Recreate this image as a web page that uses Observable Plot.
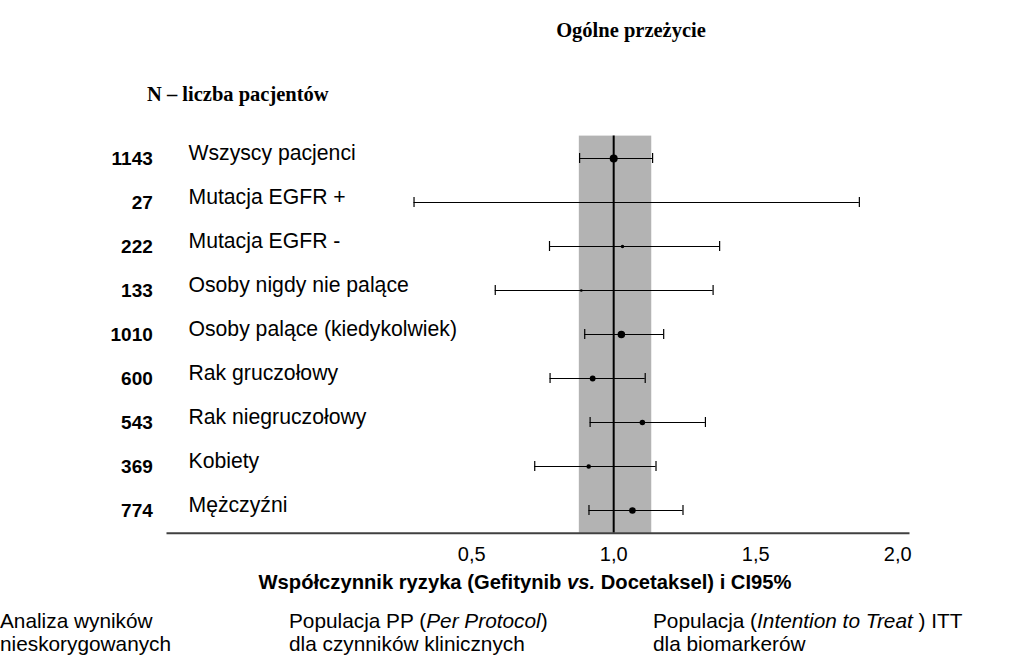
<!DOCTYPE html>
<html><head><meta charset="utf-8">
<script src="https://cdn.jsdelivr.net/npm/d3@7"></script>
<script src="https://cdn.jsdelivr.net/npm/@observablehq/plot@0.6"></script>
<style>
body{margin:0;background:#fff;}
#wrap{position:relative;width:1016px;height:664px;overflow:hidden;background:#fff;}
#chart,#notes{position:absolute;left:0;top:0;}
#notes{pointer-events:none;}
#notes text{fill:#000;}
.serif{font-family:"Liberation Serif","Times New Roman",serif;font-weight:bold;}
.sans{font-family:"Liberation Sans",Arial,sans-serif;}
</style></head><body>
<div id="wrap"><div id="chart"></div>
<svg id="notes" width="1016" height="664">
  <text class="serif" x="631" y="37" text-anchor="middle" font-size="20.5">Ogólne przeżycie</text>
  <text class="serif" x="147" y="101" font-size="20.5">N – liczba pacjentów</text>
  <text class="sans" x="525" y="589" text-anchor="middle" font-size="20.2" font-weight="bold">Współczynnik ryzyka (Gefitynib <tspan font-style="italic">vs.</tspan> Docetaksel) i CI95%</text>
  <text class="sans" x="0" y="627.5" font-size="20.8">Analiza wyników</text>
  <text class="sans" x="0" y="650.5" font-size="20.8">nieskorygowanych</text>
  <text class="sans" x="289" y="627.5" font-size="20.8">Populacja PP (<tspan font-style="italic">Per Protocol</tspan>)</text>
  <text class="sans" x="289" y="650.5" font-size="20.8">dla czynników klinicznych</text>
  <text class="sans" x="653" y="627.5" font-size="20.8">Populacja (<tspan font-style="italic">Intention to Treat </tspan>) ITT</text>
  <text class="sans" x="653" y="650.5" font-size="20.8">dla biomarkerów</text>
</svg></div>
<script>
const categories = ["Wszyscy pacjenci", "Mutacja EGFR +", "Mutacja EGFR -", "Osoby nigdy nie palące",
  "Osoby palące (kiedykolwiek)", "Rak gruczołowy", "Rak niegruczołowy", "Kobiety", "Mężczyźni"];
const patients = [1143, 27, 222, 133, 1010, 600, 543, 369, 774];
const hazardRatio = [1.000, 0.745, 1.031, 0.886, 1.027, 0.926, 1.101, 0.912, 1.066];
const ciLow = [0.880, 0.297, 0.774, 0.583, 0.898, 0.776, 0.917, 0.722, 0.913];
const ciHigh = [1.137, 1.865, 1.373, 1.350, 1.176, 1.111, 1.323, 1.149, 1.244];
const bandRange = [0.879, 1.134];
const tickValues = [0.5, 1, 1.5, 2];
const tickLabels = ["0,5", "1,0", "1,5", "2,0"];

const rows = categories.map((c, i) => ({category: c, n: patients[i], hr: hazardRatio[i], lo: ciLow[i], hi: ciHigh[i]}));

const chart = Plot.plot({
  width: 1016, height: 664,
  marginLeft: 167, marginRight: 108, marginTop: 135.6, marginBottom: 131.2,
  style: {fontFamily: "'Liberation Sans', Arial, sans-serif", color: "#000", background: "#fff"},
  x: {domain: [-0.571, 2.038], label: null},
  y: {domain: categories, padding: 0, axis: null},
  r: {type: "sqrt", domain: [0, 1143], range: [0, 4]},
  marks: [
    Plot.rect([bandRange], {x1: d => d[0], x2: d => d[1], fill: "#b3b3b3"}),
    Plot.ruleX([1], {stroke: "#000", strokeWidth: 2}),
    Plot.ruleY(rows, {y: "category", x1: "lo", x2: "hi", stroke: "#000", strokeWidth: 1.2}),
    Plot.tickX(rows, {x: "lo", y: "category", insetTop: 17, insetBottom: 17, stroke: "#000", strokeWidth: 1.2}),
    Plot.tickX(rows, {x: "hi", y: "category", insetTop: 17, insetBottom: 17, stroke: "#000", strokeWidth: 1.2}),
    Plot.dot(rows, {x: "hr", y: "category", r: "n", fill: "#000", stroke: null}),
    Plot.text(rows, {y: "category", text: d => String(d.n), frameAnchor: "left", dx: -14.7, dy: 0.3,
      textAnchor: "end", fontWeight: "bold", fontSize: 19, fill: "#000"}),
    Plot.text(rows, {y: "category", text: "category", frameAnchor: "left", dx: 21, dy: -4.8,
      textAnchor: "start", fontSize: 21.2, fill: "#000"}),
    Plot.frame({anchor: "bottom", stroke: "#404040", strokeWidth: 2}),
    Plot.axisX(tickValues, {anchor: "bottom", tickSize: 0, tickPadding: 13.5, fontSize: 20,
      tickFormat: d => tickLabels[tickValues.indexOf(d)], label: null})
  ]
});
document.getElementById("chart").appendChild(chart);
</script>
</body></html>
